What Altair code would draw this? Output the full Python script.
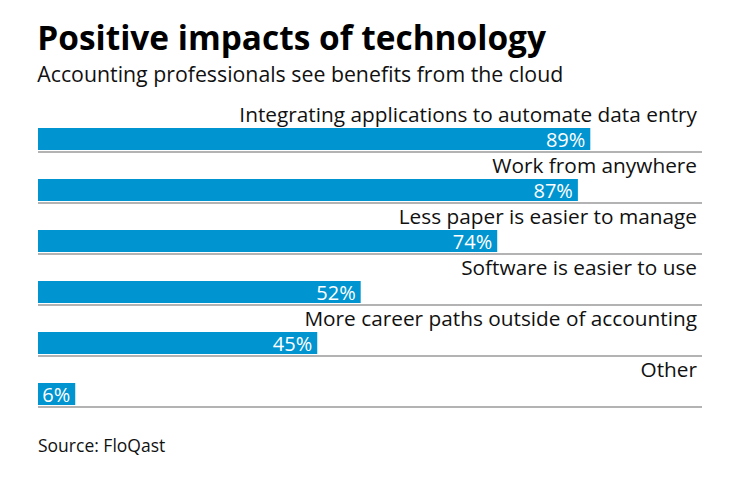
import altair as alt
import pandas as pd

categories = [
    "Integrating applications to automate data entry",
    "Work from anywhere",
    "Less paper is easier to manage",
    "Software is easier to use",
    "More career paths outside of accounting",
    "Other",
]
values = [89, 87, 74, 52, 45, 6]
value_labels = ["89%", "87%", "74%", "52%", "45%", "6%"]

df = pd.DataFrame({"cat": categories, "val": values, "lbl": value_labels})

W = 664
H = 306
FONT = "Open Sans"
BLUE = "#0094d0"

y_enc = alt.Y("cat:N", sort=None, axis=None,
              scale=alt.Scale(paddingInner=0, paddingOuter=0))
x_scale = alt.Scale(domain=[0, 107], nice=False, zero=True)

base = alt.Chart(df)

bars = base.mark_bar(size=22, yOffset=12.5, color=BLUE).encode(
    x=alt.X("val:Q", scale=x_scale, axis=None),
    y=y_enc,
)

rules = base.mark_rule(color="#9a9a9a", strokeWidth=1.5).encode(
    y=alt.Y("cat:N", sort=None, axis=None, bandPosition=1,
            scale=alt.Scale(paddingInner=0, paddingOuter=0)),
    x=alt.value(0),
    x2=alt.value(W),
)

cat_text = base.mark_text(align="right", baseline="alphabetic", dy=-4.5,
                          font=FONT, fontSize=20.8, color="#111111").encode(
    y=y_enc,
    x=alt.value(W - 5),
    text="cat:N",
)

val_text = base.mark_text(align="right", baseline="alphabetic", dx=-5, dy=20.5,
                          font=FONT, fontSize=20, color="white").encode(
    y=y_enc,
    x=alt.X("val:Q", scale=x_scale, axis=None),
    text="lbl:N",
)

source = alt.Chart(pd.DataFrame({"t": ["Source: FloQast"]})).mark_text(
    align="left", baseline="alphabetic", font=FONT, fontSize=17.5, color="#111111"
).encode(x=alt.value(0), y=alt.value(351), text="t:N")

chart = alt.layer(bars, rules, cat_text, val_text, source).properties(
    width=W,
    height=H,
    padding={"left": 29, "top": 15, "right": 10, "bottom": 10},
    title=alt.TitleParams(
        text="Positive impacts of technology",
        subtitle="Accounting professionals see benefits from the cloud",
        anchor="start",
        font=FONT,
        fontSize=33.4,
        fontWeight="bold",
        color="#000000",
        subtitleFont=FONT,
        subtitleFontSize=21.3,
        subtitleColor="#111111",
        subtitlePadding=7,
        offset=14,
    ),
).configure_view(stroke=None)

chart.save("out.html", embed_options={"renderer": "svg", "actions": False})
